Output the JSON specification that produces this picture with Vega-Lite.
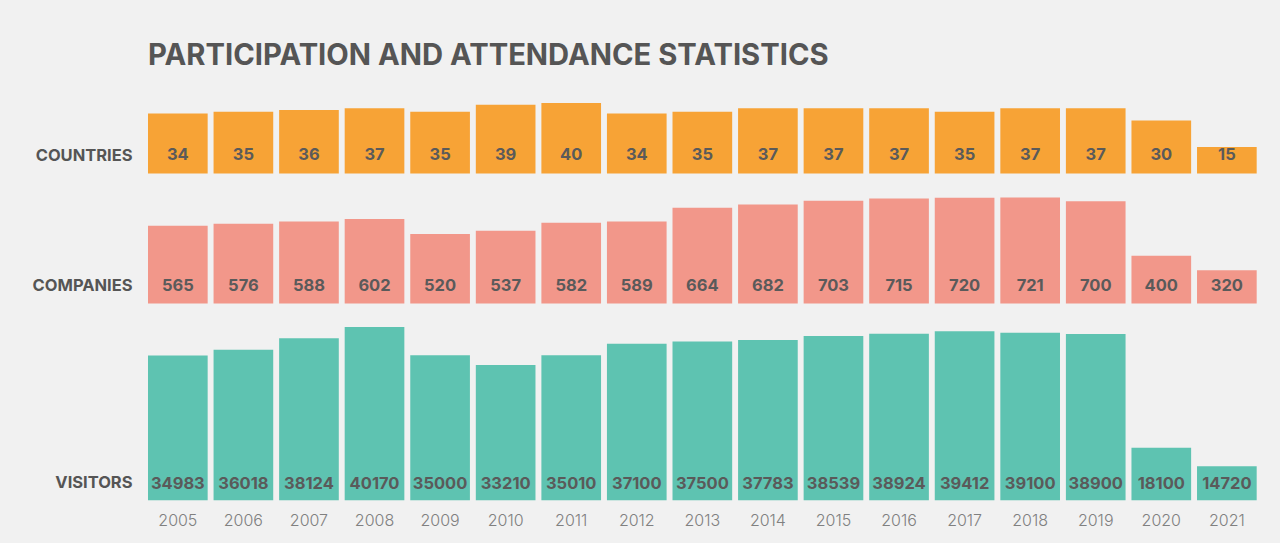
{
  "$schema": "https://vega.github.io/schema/vega-lite/v6.json",
  "background": "#f1f1f1",
  "padding": {"left": 32, "top": 41, "right": 23, "bottom": 14},
  "title": {
    "text": "PARTICIPATION AND ATTENDANCE STATISTICS",
    "anchor": "start",
    "font": "Inter",
    "fontSize": 29.2,
    "fontWeight": "bold",
    "color": "#555555",
    "dx": 116,
    "offset": 32
  },
  "datasets": {
    "stats": [
      {"year": "2005", "countries": 34, "companies": 565, "visitors": 34983},
      {"year": "2006", "countries": 35, "companies": 576, "visitors": 36018},
      {"year": "2007", "countries": 36, "companies": 588, "visitors": 38124},
      {"year": "2008", "countries": 37, "companies": 602, "visitors": 40170},
      {"year": "2009", "countries": 35, "companies": 520, "visitors": 35000},
      {"year": "2010", "countries": 39, "companies": 537, "visitors": 33210},
      {"year": "2011", "countries": 40, "companies": 582, "visitors": 35010},
      {"year": "2012", "countries": 34, "companies": 589, "visitors": 37100},
      {"year": "2013", "countries": 35, "companies": 664, "visitors": 37500},
      {"year": "2014", "countries": 37, "companies": 682, "visitors": 37783},
      {"year": "2015", "countries": 37, "companies": 703, "visitors": 38539},
      {"year": "2016", "countries": 37, "companies": 715, "visitors": 38924},
      {"year": "2017", "countries": 35, "companies": 720, "visitors": 39412},
      {"year": "2018", "countries": 37, "companies": 721, "visitors": 39100},
      {"year": "2019", "countries": 37, "companies": 700, "visitors": 38900},
      {"year": "2020", "countries": 30, "companies": 400, "visitors": 18100},
      {"year": "2021", "countries": 15, "companies": 320, "visitors": 14720}
    ]
  },
  "data": {"name": "stats"},
  "spacing": 23.5,
  "vconcat": [
    {
      "width": 1108.7,
      "height": 70.4,
      "encoding": {
        "x": {"field": "year", "type": "ordinal", "scale": {"paddingInner": 0.09, "paddingOuter": 0}, "axis": null}
      },
      "layer": [
        {
          "mark": {"type": "bar", "color": "#F7A336"},
          "encoding": {
            "y": {
              "field": "countries", "type": "quantitative",
              "scale": {"domain": [0, 40], "nice": false, "zero": false, "clamp": true},
              "axis": {"title": "COUNTRIES", "titleAngle": 0, "titleAlign": "right", "titleBaseline": "middle", "titleX": -16, "titleY": 52.4, "domain": false, "ticks": false, "labels": false, "grid": false, "titleFont": "Inter", "titleFontSize": 16.5, "titleFontWeight": "bold", "titleColor": "#555555"}
            }
          }
        },
        {
          "mark": {"type": "text", "dy": 17.2, "baseline": "middle", "font": "Inter", "fontSize": 16.5, "fontWeight": "bold", "color": "#5a5a5a"},
          "encoding": {
            "text": {"field": "countries", "type": "quantitative"}
          }
        }
      ]
    },
    {
      "width": 1108.7,
      "height": 106,
      "encoding": {
        "x": {"field": "year", "type": "ordinal", "scale": {"paddingInner": 0.09, "paddingOuter": 0}, "axis": null}
      },
      "layer": [
        {
          "mark": {"type": "bar", "color": "#F2978A"},
          "encoding": {
            "y": {
              "field": "companies", "type": "quantitative",
              "scale": {"domain": [136, 721], "nice": false, "zero": false, "clamp": true},
              "axis": {"title": "COMPANIES", "titleAngle": 0, "titleAlign": "right", "titleBaseline": "middle", "titleX": -16, "titleY": 88.1, "domain": false, "ticks": false, "labels": false, "grid": false, "titleFont": "Inter", "titleFontSize": 16.5, "titleFontWeight": "bold", "titleColor": "#555555"}
            }
          }
        },
        {
          "mark": {"type": "text", "dy": 35.1, "baseline": "middle", "font": "Inter", "fontSize": 16.5, "fontWeight": "bold", "color": "#5a5a5a"},
          "encoding": {
            "text": {"field": "companies", "type": "quantitative"}
          }
        }
      ]
    },
    {
      "width": 1108.7,
      "height": 173.3,
      "encoding": {
        "x": {
          "field": "year", "type": "ordinal",
          "scale": {"paddingInner": 0.09, "paddingOuter": 0},
          "axis": {"title": null, "domain": false, "ticks": false, "labelAngle": 0, "labelPadding": 12, "labelFont": "Inter", "labelFontSize": 16, "labelFontWeight": 300, "labelColor": "#808080"}
        }
      },
      "layer": [
        {
          "mark": {"type": "bar", "color": "#5EC3B1"},
          "encoding": {
            "y": {
              "field": "visitors", "type": "quantitative",
              "scale": {"domain": [8515, 40170], "nice": false, "zero": false, "clamp": true},
              "axis": {"title": "VISITORS", "titleAngle": 0, "titleAlign": "right", "titleBaseline": "middle", "titleX": -16, "titleY": 156, "domain": false, "ticks": false, "labels": false, "grid": false, "titleFont": "Inter", "titleFontSize": 16.5, "titleFontWeight": "bold", "titleColor": "#555555"}
            }
          }
        },
        {
          "mark": {"type": "text", "dy": 70, "baseline": "middle", "font": "Inter", "fontSize": 16.5, "fontWeight": "bold", "color": "#5a5a5a"},
          "encoding": {
            "text": {"field": "visitors", "type": "quantitative", "format": "d"}
          }
        }
      ]
    }
  ],
  "config": {
    "view": {"stroke": null}
  }
}
